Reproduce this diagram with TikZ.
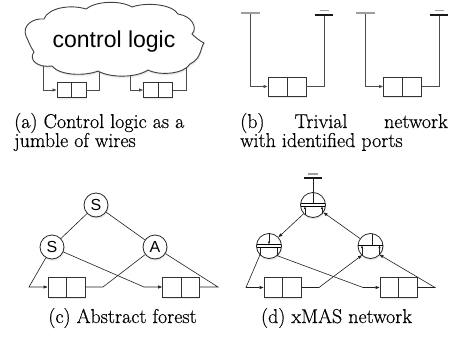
\documentclass[tikz,border=0pt]{standalone}
\usepackage{fontspec}
\newfontfamily\helv{Liberation Sans}
\newfontfamily\capfont[FakeBold=0.5]{Latin Modern Roman}
\usetikzlibrary{arrows.meta,calc,shadows}

\tikzset{
  softshadow/.style={
    drop shadow={opacity=0.10,shadow xshift=0.3pt,shadow yshift=-0.8pt},
    drop shadow={opacity=0.10,shadow xshift=0.6pt,shadow yshift=-1.6pt},
    drop shadow={opacity=0.07,shadow xshift=0.9pt,shadow yshift=-2.4pt}},
  wire/.style={draw=black!70,line width=0.75pt},
  dwire/.style={draw=black!88,line width=0.6pt},
  arrowtip/.style={-{Triangle[length=4pt,width=3pt]}},
  innertip/.style={-{Triangle[length=2.6pt,width=2.2pt]}},
  qbox/.style={rectangle,draw=black!80,line width=0.9pt,fill=white,inner sep=0pt,
    path picture={\draw[black!80,line width=0.8pt]
      (path picture bounding box.north) -- (path picture bounding box.south);},
    softshadow},
  snode/.style={circle,draw=black!85,line width=0.8pt,fill=white,minimum size=24pt,
    inner sep=0pt,font=\helv\fontsize{16}{16}\selectfont,softshadow},
  xnode/.style={circle,draw=black!85,line width=0.8pt,fill=white,minimum size=25pt,
    inner sep=0pt,softshadow},
  pbar/.style={draw=black!38,line width=1.6pt},
  pbard/.style={draw=black!90,line width=1.1pt},
  captxt/.style={inner sep=0pt,font=\capfont\fontsize{20}{24}\selectfont},
}

\begin{document}
\begin{tikzpicture}[x=1pt,y=-1pt]
\useasboundingbox (0,0) rectangle (456,343);

% ---------- (a) control logic ----------
\node[qbox,minimum width=29pt,minimum height=14.5pt] (qa1) at (71.5,90) {};
\node[qbox,minimum width=29pt,minimum height=14.5pt] (qa2) at (158,90) {};
\coordinate (a1) at (43,60);
\coordinate (a2) at (99,62);
\coordinate (a3) at (130,62);
\coordinate (a4) at (186,58);
\draw[wire,arrowtip] (a1) |- (qa1.west);
\draw[wire] (qa1.east) -| (a2);
\draw[wire,arrowtip] (a3) |- (qa2.west);
\draw[wire] (qa2.east) -| (a4);
\path[draw=black!75,line width=0.9pt,fill=white,softshadow]
  (26,36)
  .. controls (22,26) and (32,18) .. (44,19)
  .. controls (48,8) and (70,4) .. (86,9)
  .. controls (96,1) and (120,0) .. (132,7)
  .. controls (146,2) and (172,4) .. (178,14)
  .. controls (192,16) and (198,28) .. (192,34)
  .. controls (196,38) and (200,41) .. (204,43)
  .. controls (200,48) and (202,58) .. (190,64)
  .. controls (184,74) and (160,76) .. (148,70)
  .. controls (136,78) and (110,78) .. (98,71)
  .. controls (86,76) and (60,76) .. (52,66)
  .. controls (38,68) and (28,60) .. (34,52)
  .. controls (30,46) and (28,40) .. (26,36) -- cycle;
\node[anchor=base,inner sep=0pt,font=\helv\fontsize{23}{23}\selectfont] (cl) at (114,47) {control logic};

% ---------- (b) trivial network ----------
\node[qbox,minimum width=38pt,minimum height=19pt] (qb1) at (287,86.5) {};
\node[qbox,minimum width=38pt,minimum height=19pt] (qb2) at (402.5,86.5) {};
\coordinate (b1) at (250,13);
\coordinate (b2) at (324,15);
\coordinate (b3) at (365,13);
\coordinate (b4) at (439,15);
\draw[wire,arrowtip] (b1) |- (qb1.west);
\draw[wire] (qb1.east) -| (b2);
\draw[wire,arrowtip] (b3) |- (qb2.west);
\draw[wire] (qb2.east) -| (b4);
\foreach \p in {b1,b3}{
  \draw[pbar] ([xshift=-9.5pt]\p) -- ([xshift=9.5pt]\p);}
\foreach \p in {b2,b4}{
  \draw[pbard] ([xshift=-9pt]\p) -- ([xshift=9pt]\p);
  \draw[pbar,line width=1.3pt] ([xshift=-4.5pt,yshift=4.5pt]\p) -- ([xshift=4.5pt,yshift=4.5pt]\p);}

% ---------- (c) abstract forest ----------
\node[qbox,minimum width=37pt,minimum height=20pt] (qc1) at (66.5,287) {};
\node[qbox,minimum width=37pt,minimum height=20pt] (qc2) at (181,287) {};
\node[snode] (s0) at (96,205) {S};
\node[snode] (s1) at (52,247) {S};
\node[snode] (sa) at (155,247) {A};
\coordinate (c1) at (29,287);
\coordinate (c2) at (144,287);
\coordinate (c3) at (103,287);
\coordinate (c4) at (218,287);
\draw[dwire] (s0) -- (s1);
\draw[dwire] (s0) -- (sa);
\draw[dwire,arrowtip] (s1) -- (c1) -- (qc1.west);
\draw[dwire,arrowtip] (s1) -- (c2) -- (qc2.west);
\draw[dwire] (qc1.east) -- (c3) -- (sa);
\draw[dwire] (qc2.east) -- (c4) -- (sa);

% ---------- (d) xMAS network ----------
\node[qbox,minimum width=37pt,minimum height=20pt] (qd1) at (282.5,287.5) {};
\node[qbox,minimum width=37pt,minimum height=20pt] (qd2) at (398.5,287.5) {};
\node[xnode] (xt) at (313,205) {};
\node[xnode] (xl) at (269,246) {};
\node[xnode] (xr) at (370.5,246) {};
% internal bars
\begin{scope}
  \clip (xt) circle (12.5pt);
  \draw[black,line width=0.8pt] (298,203) -- (328,203);
  \draw[black,line width=0.5pt] (298,206) -- (328,206);
\end{scope}
\begin{scope}
  \clip (xl) circle (12.5pt);
  \draw[black,line width=0.8pt] (254,244.5) -- (284,244.5);
  \draw[black,line width=0.5pt] (254,247.5) -- (284,247.5);
\end{scope}
\begin{scope}
  \clip (xr) circle (12.5pt);
  \draw[black,line width=0.8pt] (356,245) -- (386,245);
\end{scope}
% top node: output stem to the port
\coordinate (dt) at (313,178);
\draw[dwire] (dt) -- (313,203);
\draw[pbard] ([xshift=-9pt]dt) -- ([xshift=9pt]dt);
\draw[pbar,line width=1.3pt] ([xshift=-5pt,yshift=4pt]dt) -- ([xshift=5pt,yshift=4pt]dt);
\draw[dwire,innertip] (305,214.6) -- (305,206.5);
\draw[dwire,innertip] (322,213.7) -- (322,206.5);
% left node: input from above, two outputs below
\draw[dwire,innertip] (269,233.5) -- (269,244.2);
\coordinate (lo1) at (260,254.7);
\coordinate (lo2) at (277,255.6);
\draw[dwire] (260,247.5) -- (lo1);
\draw[dwire] (277,247.5) -- (lo2);
% right node: two inputs below, output above
\draw[dwire] (372,233.6) -- (372,245);
\coordinate (ri1) at (362,255.2);
\coordinate (ri2) at (379.5,254.7);
\draw[dwire,innertip] (ri1) -- (362,245.6);
\draw[dwire,innertip] (ri2) -- (379.5,245.6);
% connections
\coordinate (d1) at (246,287.5);
\coordinate (d2) at (363,287.5);
\coordinate (d3) at (319,287.5);
\coordinate (d4) at (435,287.5);
\draw[dwire,arrowtip] (xt) -- (xl);
\draw[dwire,arrowtip] (xr) -- (xt);
\draw[dwire,arrowtip] (lo1) -- (d1) -- (qd1.west);
\draw[dwire,arrowtip] (lo2) -- (d2) -- (qd2.west);
\draw[dwire,arrowtip] (qd1.east) -- (d3) -- (ri1);
\draw[dwire,arrowtip] (qd2.east) -- (d4) -- (ri2);

% ---------- captions ----------
\node[captxt,anchor=base west] (ca1) at (14,128) {(a) Control logic as a};
\node[captxt,anchor=base west] (ca2) at (14,147) {jumble of wires};
\node[captxt,anchor=base west] (cb1) at (240,128) {(b)};
\node[captxt,anchor=base] (cb2) at (321,128) {Trivial};
\node[captxt,anchor=base east] (cb3) at (448,128) {network};
\node[captxt,anchor=base west] (cb4) at (240,147) {with identified ports};
\node[captxt,anchor=base] (cc) at (122.5,323) {(c) Abstract forest};
\node[captxt,anchor=base] (cd) at (336.5,323) {(d) xMAS network};
\end{tikzpicture}
\end{document}
